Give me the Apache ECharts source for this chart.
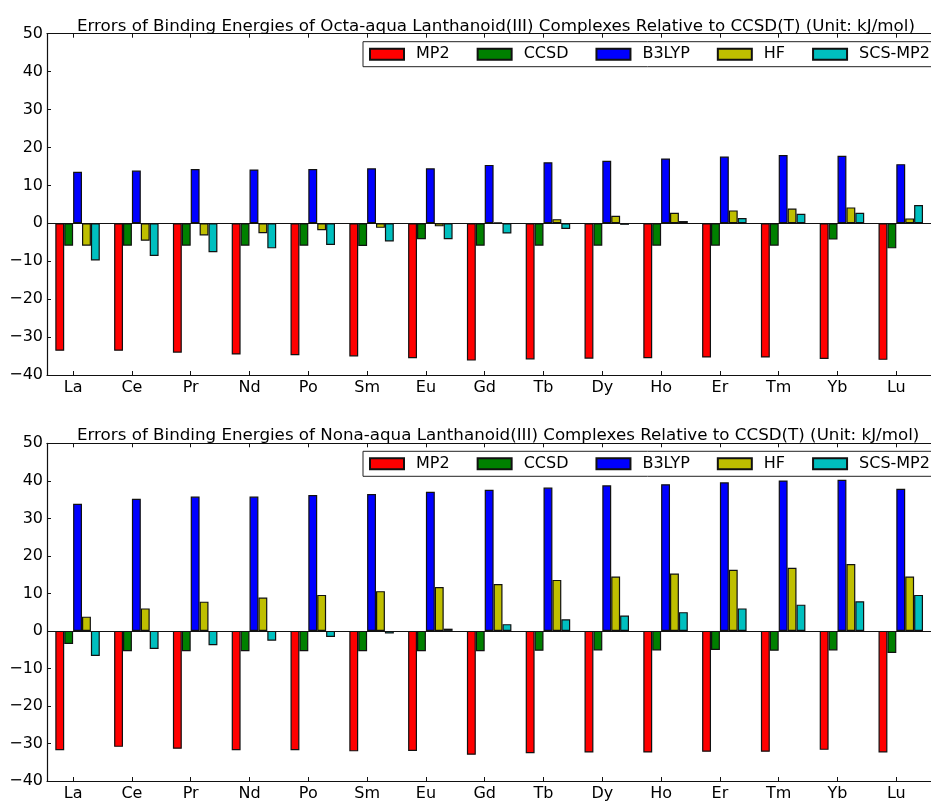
<!DOCTYPE html>
<html>
<head>
<meta charset="utf-8">
<script src="https://cdn.jsdelivr.net/npm/echarts@6/dist/echarts.min.js"></script>
<style>
  html, body { margin: 0; padding: 0; background: #ffffff; }
  #chart { width: 931px; height: 802px; }
</style>
</head>
<body>
<div id="chart"></div>
<script>
// Lanthanoid elements along the x axis
const elements = ['La', 'Ce', 'Pr', 'Nd', 'Po', 'Sm', 'Eu', 'Gd', 'Tb', 'Dy', 'Ho', 'Er', 'Tm', 'Yb', 'Lu'];
const methods = ['MP2', 'CCSD', 'B3LYP', 'HF', 'SCS-MP2'];
const methodColors = ['#ff0000', '#008000', '#0000ff', '#bfbf00', '#00bfbf'];
const yTickValues = [-40, -30, -20, -10, 0, 10, 20, 30, 40, 50];

const octaTitle = 'Errors of Binding Energies of Octa-aqua Lanthanoid(III) Complexes Relative to CCSD(T) (Unit: kJ/mol)';
const nonaTitle = 'Errors of Binding Energies of Nona-aqua Lanthanoid(III) Complexes Relative to CCSD(T) (Unit: kJ/mol)';

// Octa-aqua complexes, errors in kJ/mol
const octaMP2   = [-33.6, -33.6, -34.1, -34.6, -34.8, -35.1, -35.6, -36.2, -35.9, -35.7, -35.6, -35.4, -35.4, -35.8, -36.0];
const octaCCSD  = [-5.9, -5.9, -5.9, -5.9, -5.9, -6.0, -4.2, -5.9, -5.9, -5.9, -5.9, -5.9, -5.9, -4.3, -6.6];
const octaB3LYP = [13.6, 13.9, 14.3, 14.2, 14.3, 14.5, 14.5, 15.4, 16.1, 16.5, 17.1, 17.6, 18.0, 17.8, 15.6];
const octaHF    = [-5.9, -4.6, -3.2, -2.6, -1.8, -1.2, -0.8, 0.2, 1.1, 2.0, 2.8, 3.4, 3.9, 4.2, 1.3];
const octaSCS   = [-9.8, -8.6, -7.6, -6.6, -5.7, -4.8, -4.2, -2.7, -1.5, -0.4, 0.6, 1.4, 2.5, 2.8, 4.8];

// Nona-aqua complexes, errors in kJ/mol
const nonaMP2   = [-31.8, -30.9, -31.4, -31.8, -31.8, -32.1, -32.0, -33.0, -32.6, -32.4, -32.4, -32.2, -32.2, -31.7, -32.4];
const nonaCCSD  = [-3.5, -5.4, -5.4, -5.4, -5.4, -5.4, -5.4, -5.4, -5.3, -5.2, -5.2, -5.1, -5.3, -5.2, -5.9];
const nonaB3LYP = [33.9, 35.2, 35.8, 35.8, 36.2, 36.5, 37.1, 37.6, 38.2, 38.8, 39.1, 39.6, 40.1, 40.3, 37.9];
const nonaHF    = [3.8, 6.0, 7.8, 8.9, 9.6, 10.6, 11.7, 12.5, 13.6, 14.5, 15.3, 16.3, 16.8, 17.8, 14.5];
const nonaSCS   = [-6.7, -4.8, -3.8, -2.6, -1.6, -0.7, 0.6, 1.8, 3.1, 4.1, 5.0, 6.0, 7.0, 7.9, 9.6];

const panels = [
  { title: octaTitle, values: [octaMP2, octaCCSD, octaB3LYP, octaHF, octaSCS] },
  { title: nonaTitle, values: [nonaMP2, nonaCCSD, nonaB3LYP, nonaHF, nonaSCS] }
];

const FONT = "'DejaVu Sans', 'Liberation Sans', sans-serif";
const INK = '#111111';
const X_MIN = -0.444;
const X_MAX = 14.59;
const BAR_W = 8.9;
const tickIdx = elements.map((_, i) => i);

const grids = [
  { left: 47, right: -6, top: 33.7, height: 341.3 },
  { left: 47, right: -6, top: 443.3, height: 342.4 }
];

const minus = v => String(v).replace('-', '\u2212');

const xAxes = [];
const yAxes = [];
const series = [];
const titles = [];
const legends = [];

panels.forEach((panel, g) => {
  // bottom axis with element labels
  xAxes.push({
    type: 'value', gridIndex: g, position: 'bottom', min: X_MIN, max: X_MAX,
    axisLine: { show: true, onZero: false, lineStyle: { color: INK, width: 1.2 } },
    axisTick: { show: true, inside: true, length: 4, customValues: tickIdx, lineStyle: { color: INK } },
    axisLabel: {
      show: true, customValues: tickIdx, margin: 5,
      formatter: v => elements[Math.round(v)] || '',
      color: '#000', fontSize: 16, fontFamily: FONT
    },
    splitLine: { show: false }
  });
  // top frame edge
  xAxes.push({
    type: 'value', gridIndex: g, position: 'top', min: X_MIN, max: X_MAX,
    axisLine: { show: true, onZero: false, lineStyle: { color: INK, width: 1.2 } },
    axisTick: { show: true, inside: true, length: 4, customValues: tickIdx, lineStyle: { color: INK } },
    axisLabel: { show: false },
    splitLine: { show: false }
  });
  yAxes.push({
    type: 'value', gridIndex: g, position: 'left',
    min: yTickValues[0], max: yTickValues[yTickValues.length - 1], interval: 10,
    axisLine: { show: true, onZero: false, lineStyle: { color: INK, width: 1.2 } },
    axisTick: { show: true, inside: true, length: 4, lineStyle: { color: INK } },
    axisLabel: { show: true, margin: 4, formatter: minus, color: '#000', fontSize: 16, fontFamily: FONT },
    splitLine: { show: false }
  });

  // empty leading slot so each group sits just right of its tick
  series.push({
    type: 'bar', name: 'spacer', xAxisIndex: g * 2, yAxisIndex: g,
    barWidth: BAR_W, barGap: '0%', silent: true,
    data: elements.map((_, k) => [k, null]),
    itemStyle: { opacity: 0 }
  });
  panel.values.forEach((vals, i) => {
    const s = {
      type: 'bar', name: methods[i], xAxisIndex: g * 2, yAxisIndex: g,
      barWidth: BAR_W, barGap: '0%',
      data: vals.map((v, k) => [k, v]),
      itemStyle: { color: methodColors[i], borderColor: INK, borderWidth: 1.2 },
      emphasis: { disabled: true }
    };
    if (i === 0) {
      s.markLine = {
        silent: true, symbol: 'none', animation: false,
        label: { show: false },
        lineStyle: { color: INK, width: 1.2, type: 'solid' },
        data: [{ yAxis: 0 }]
      };
    }
    series.push(s);
  });

  titles.push({
    text: panel.title, left: 72, top: grids[g].top - 21,
    textStyle: { color: '#000', fontSize: 16.7, fontWeight: 'normal', fontFamily: FONT }
  });
  legends.push({
    data: methods, left: 363, top: grids[g].top + 8, width: 640,
    orient: 'horizontal', icon: 'rect',
    itemWidth: 34, itemHeight: 11, itemGap: 27,
    padding: [4.5, 6, 4.5, 6],
    borderColor: '#222', borderWidth: 1, backgroundColor: '#fff',
    selectedMode: false,
    textStyle: { color: '#000', fontSize: 16, fontFamily: FONT, lineHeight: 16, padding: [0, 0, 0, 7] }
  });
});

const chart = echarts.init(document.getElementById('chart'), null, { renderer: 'canvas' });
chart.setOption({
  backgroundColor: '#ffffff',
  animation: false,
  title: titles,
  legend: legends,
  grid: grids,
  xAxis: xAxes,
  yAxis: yAxes,
  series: series
});
</script>
</body>
</html>
